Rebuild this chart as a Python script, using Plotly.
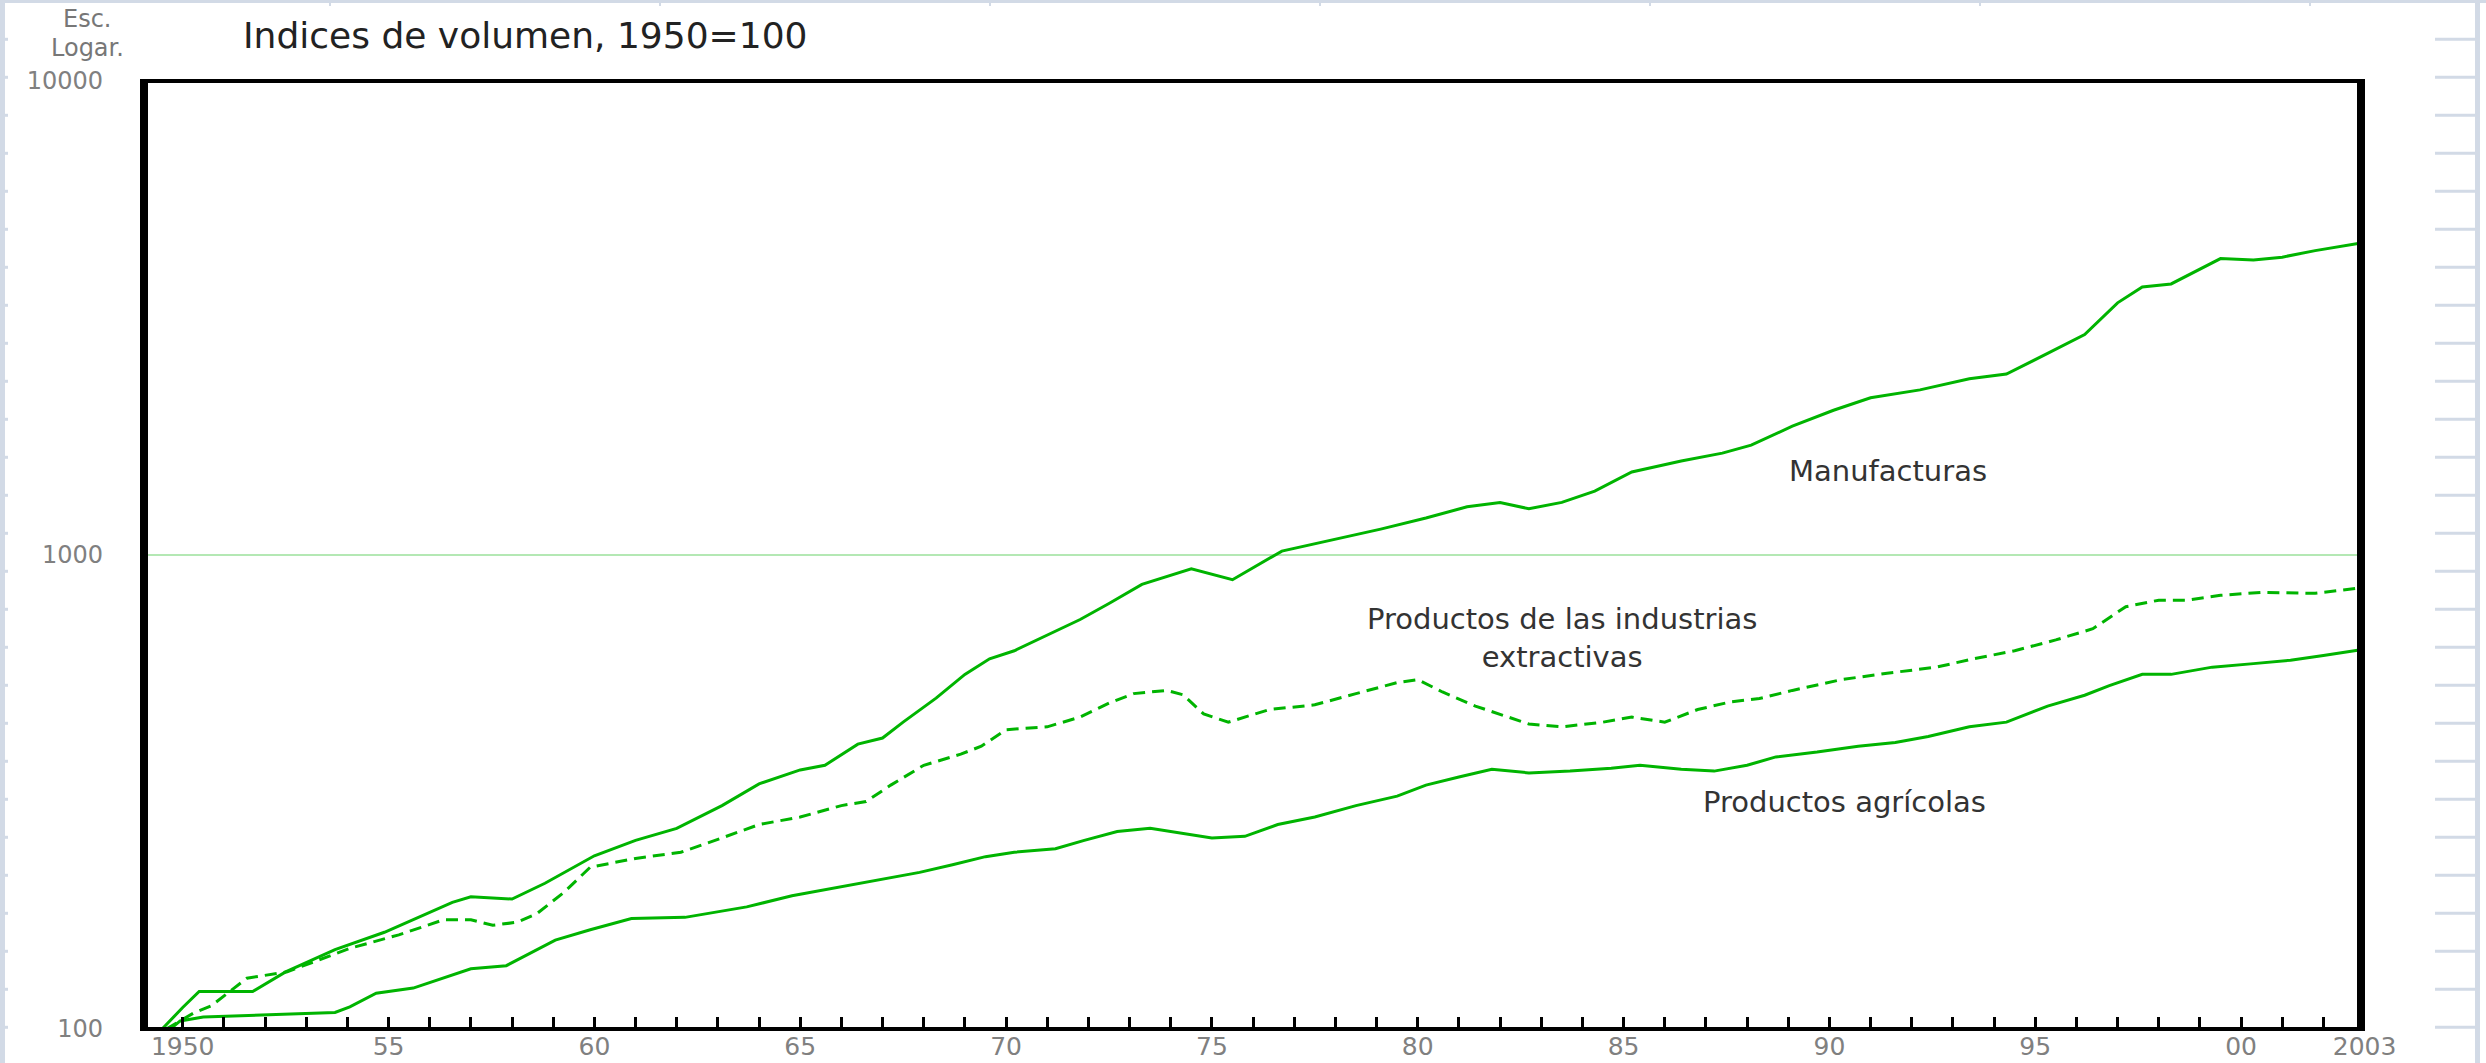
import plotly.graph_objects as go

# ---------------- data ----------------
mf_years = [1949.5, 1950.0, 1950.4, 1951.7, 1952.5, 1953.7, 1954.9, 1956.55, 1957.0, 1958.0,
            1958.8, 1960.0, 1961.0, 1962.0, 1963.1, 1964.0, 1965.0, 1965.6, 1966.4, 1967.0,
            1967.5, 1968.3, 1969.0, 1969.6, 1970.2, 1971.0, 1971.8, 1972.5, 1973.3, 1974.5,
            1975.5, 1976.7, 1977.9, 1979.1, 1980.2, 1981.2, 1982.0, 1982.7, 1983.5, 1984.3,
            1985.2, 1986.4, 1987.4, 1988.1, 1989.1, 1990.1, 1991.0, 1992.2, 1993.4, 1994.3,
            1995.3, 1996.2, 1997.0, 1997.6, 1998.3, 1998.9, 1999.5, 2000.3, 2001.0, 2001.8,
            2002.95]
mf_values = [100, 111, 120, 120, 132, 147, 160, 185, 190, 188,
             203, 232, 250, 265, 296, 329, 352, 360, 399, 411,
             444, 499, 560, 604, 628, 678, 731, 790, 867, 935,
             887, 1019, 1074, 1134, 1197, 1264, 1291, 1252, 1291, 1364,
             1497, 1579, 1640, 1705, 1870, 2020, 2147, 2230, 2353, 2408,
             2663, 2919, 3404, 3677, 3731, 3968, 4220, 4190, 4250, 4387,
             4560]

ex_years = [1949.6, 1950.26, 1950.7, 1951.56, 1952.54, 1954.06, 1955.25, 1956.34, 1957.0, 1957.53,
            1958.13, 1958.6, 1959.27, 1959.9, 1961.0, 1962.1, 1963.1, 1964.0, 1965.0, 1966.0,
            1966.6, 1967.2, 1968.0, 1968.9, 1969.4, 1970.0, 1971.0, 1971.8, 1972.5, 1973.1,
            1973.9, 1974.3, 1974.8, 1975.4, 1976.4, 1977.5, 1978.5, 1979.5, 1980.0, 1980.6,
            1981.4, 1982.2, 1982.7, 1983.5, 1984.5, 1985.2, 1986.0, 1986.8, 1987.6, 1988.3,
            1989.1, 1990.3, 1991.4, 1992.6, 1993.5, 1994.5, 1995.5, 1996.4, 1997.2, 1998.0,
            1998.7, 1999.5, 2000.5, 2001.8, 2002.95]
ex_values = [100, 108, 112, 128, 132, 148, 158, 170, 170, 165.5,
             168, 175, 194.5, 219.5, 229, 236, 253, 270, 280, 296,
             302, 327, 360, 380, 395, 428, 434, 455, 487, 510,
             518, 507, 462, 444, 472, 483, 510, 538, 546, 514,
             480, 455, 440, 434, 444, 455, 444, 472, 490, 498,
             518, 546, 563, 580, 604, 628, 662, 699, 778, 803,
             803, 822, 834, 830, 853]

ag_years = [1949.7, 1949.94, 1950.5, 1952.0, 1953.7, 1954.06, 1954.7, 1955.6, 1956.3, 1957.0,
            1957.86, 1958.4, 1959.05, 1959.9, 1960.9, 1962.2, 1963.7, 1964.8, 1965.8, 1966.9,
            1967.9, 1968.7, 1969.5, 1970.2, 1971.2, 1971.9, 1972.7, 1973.5, 1974.3, 1975.0,
            1975.8, 1976.6, 1977.5, 1978.5, 1979.5, 1980.2, 1981.0, 1981.8, 1982.7, 1983.7,
            1984.7, 1985.4, 1986.4, 1987.2, 1988.0, 1988.7, 1989.7, 1990.7, 1991.6, 1992.4,
            1993.4, 1994.3, 1995.3, 1996.2, 1996.8, 1997.6, 1998.3, 1999.3, 2000.3, 2001.2,
            2002.0, 2002.95]
ag_values = [100, 104, 106, 107, 108.4, 111.4, 119, 122, 128, 134,
             136, 144, 154, 162, 171, 172, 181, 191, 198, 206,
             214, 222, 231, 236, 240, 250, 261, 265, 259, 253,
             255, 270, 280, 296, 310, 327, 340, 353, 347, 350,
             355, 360, 353, 350, 360, 375, 384, 395, 402, 414,
             434, 444, 480, 506, 530, 560, 560, 580, 590, 600,
             614, 632]

tick_years = list(range(1950, 2004))
label_years = [1950, 1955, 1960, 1965, 1970, 1975, 1980, 1985, 1990, 1995, 2000, 2003]
label_texts = ["1950", "55", "60", "65", "70", "75", "80", "85", "90", "95", "00", "2003"]
y_tickvals = [100, 1000, 10000]
y_ticktext = ["100", "1000", "10000"]

title_text = "Indices de volumen, 1950=100"
scale_text = ["Esc.", "Logar."]
series_labels = ["Manufacturas", "Productos de las industrias<br>extractivas", "Productos agrícolas"]

# ---------------- layout geometry (pixels) ----------------
W, H = 2486, 1063
L, R, T, B = 144, 121, 81, 34
PW, PH = W - L - R, H - T - B


def px(x):
    return (x - L) / PW


def py(y):
    return (H - B - y) / PH


GREEN = "#00b400"
FONT = "DejaVu Sans"

fig = go.Figure()
fig.add_trace(go.Scatter(x=mf_years, y=mf_values, mode="lines",
                         line=dict(color=GREEN, width=3), hoverinfo="skip"))
fig.add_trace(go.Scatter(x=ex_years, y=ex_values, mode="lines",
                         line=dict(color=GREEN, width=3, dash="12px,7px"), hoverinfo="skip"))
fig.add_trace(go.Scatter(x=ag_years, y=ag_values, mode="lines",
                         line=dict(color=GREEN, width=3), hoverinfo="skip"))

tick_text = [label_texts[label_years.index(y)] if y in label_years else "" for y in tick_years]

fig.update_layout(
    width=W, height=H,
    margin=dict(l=L, r=R, t=T, b=B, pad=0, autoexpand=False),
    paper_bgcolor="white", plot_bgcolor="white",
    showlegend=False,
    font=dict(family=FONT, size=24, color="#808080"),
    xaxis=dict(range=[1949.06, 2003.01], tickvals=tick_years, ticktext=tick_text,
               ticks="inside", ticklen=12, tickwidth=3, tickcolor="black",
               showgrid=False, zeroline=False, showline=False, automargin=False,
               tickfont=dict(family=FONT, size=25, color="#808080"),
               ticklabelstandoff=0),
    yaxis=dict(type="log", range=[2, 4], tickvals=y_tickvals, ticktext=y_ticktext,
               ticks="", showgrid=True, gridcolor="#b4e8b4", gridwidth=2,
               zeroline=False, showline=False, automargin=False,
               tickfont=dict(family=FONT, size=24, color="#808080"),
               ticklabelstandoff=40),
)

shapes = []
# plot frame
shapes.append(dict(type="line", xref="paper", yref="paper", x0=0, x1=0, y0=-0.002, y1=1.002,
                   line=dict(color="black", width=8)))
shapes.append(dict(type="line", xref="paper", yref="paper", x0=px(2361), x1=px(2361), y0=-0.002, y1=1.002,
                   line=dict(color="black", width=8)))
shapes.append(dict(type="line", xref="paper", yref="paper", x0=0, x1=px(2365), y0=1, y1=1,
                   line=dict(color="black", width=4)))
shapes.append(dict(type="line", xref="paper", yref="paper", x0=0, x1=px(2365), y0=0, y1=0,
                   line=dict(color="black", width=4)))

# page ruler decorations
RULER = "#d2dae6"
shapes.append(dict(type="rect", xref="paper", yref="paper", x0=px(0), x1=px(5), y0=py(H), y1=py(0),
                   line=dict(width=0), fillcolor=RULER, layer="below"))
shapes.append(dict(type="rect", xref="paper", yref="paper", x0=px(0), x1=px(W), y0=py(3), y1=py(0),
                   line=dict(width=0), fillcolor=RULER, layer="below"))
shapes.append(dict(type="rect", xref="paper", yref="paper", x0=px(2475), x1=px(2480), y0=py(H), y1=py(0),
                   line=dict(width=0), fillcolor=RULER, layer="below"))
for k in range(0, 29):
    yk = 1.3 + 38 * k
    if yk > H:
        break
    shapes.append(dict(type="line", xref="paper", yref="paper", x0=px(2435), x1=px(2480),
                       y0=py(yk), y1=py(yk), line=dict(color=RULER, width=3), layer="below"))
    shapes.append(dict(type="line", xref="paper", yref="paper", x0=px(5), x1=px(8),
                       y0=py(yk), y1=py(yk), line=dict(color=RULER, width=3), layer="below"))
for xm in [330, 660, 990, 1320, 1650, 1980, 2310]:
    shapes.append(dict(type="line", xref="paper", yref="paper", x0=px(xm), x1=px(xm),
                       y0=py(0), y1=py(6), line=dict(color=RULER, width=2), layer="below"))

fig.update_layout(shapes=shapes)

ann = []
ann.append(dict(text=title_text, x=px(525), y=py(35), xref="paper", yref="paper",
                showarrow=False, xanchor="center", yanchor="middle",
                font=dict(family=FONT, size=36, color="#222222")))
ann.append(dict(text=scale_text[0], x=px(87), y=py(19), xref="paper", yref="paper",
                showarrow=False, xanchor="center", yanchor="middle",
                font=dict(family=FONT, size=24, color="#777777")))
ann.append(dict(text=scale_text[1], x=px(87), y=py(48), xref="paper", yref="paper",
                showarrow=False, xanchor="center", yanchor="middle",
                font=dict(family=FONT, size=24, color="#777777")))
ann.append(dict(text=series_labels[0], x=px(1888), y=py(471), xref="paper", yref="paper",
                showarrow=False, xanchor="center", yanchor="middle",
                font=dict(family=FONT, size=29, color="#333333")))
ann.append(dict(text=series_labels[1], x=px(1562), y=py(638), xref="paper", yref="paper",
                showarrow=False, xanchor="center", yanchor="middle", align="center",
                font=dict(family=FONT, size=29, color="#333333")))
ann.append(dict(text=series_labels[2], x=px(1844), y=py(802), xref="paper", yref="paper",
                showarrow=False, xanchor="center", yanchor="middle",
                font=dict(family=FONT, size=29, color="#333333")))
fig.update_layout(annotations=ann)

fig.write_html("out.html", config={"displayModeBar": False},
               post_script="document.body.style.margin='0';document.body.style.overflow='hidden';")
